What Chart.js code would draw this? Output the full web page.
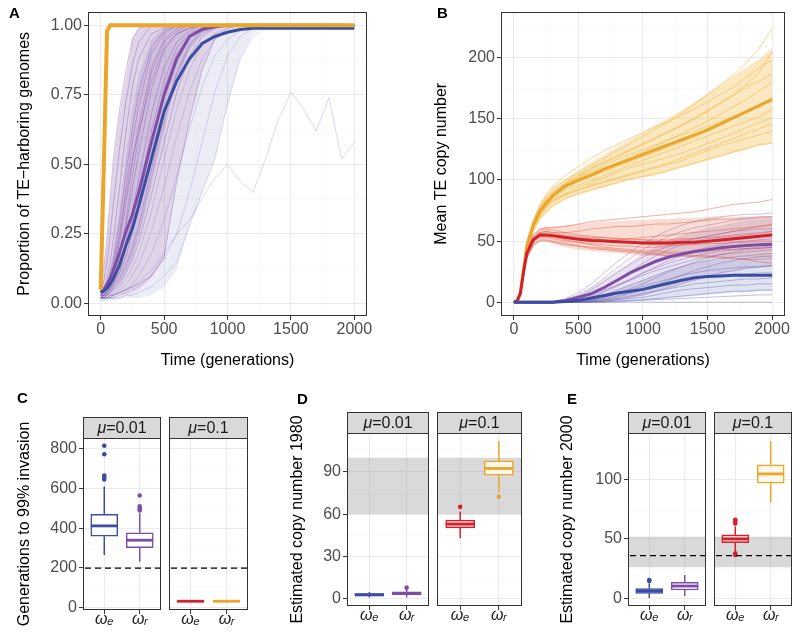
<!DOCTYPE html>
<html><head><meta charset="utf-8">
<script src="https://cdn.jsdelivr.net/npm/chart.js@4.4.1/dist/chart.umd.min.js"></script>
<style>
html,body{margin:0;padding:0;background:#fff;}
#wrap{position:relative;width:800px;height:633px;overflow:hidden;background:#fff;font-family:'Liberation Sans',Arial,sans-serif;}
canvas{position:absolute;}
.lab{position:absolute;font-weight:bold;font-size:15px;line-height:15px;color:#000;}
</style></head><body>
<div id="wrap">
<canvas id="cA" width="400" height="370" style="left:0;top:0"></canvas>
<canvas id="cB" width="400" height="370" style="left:400px;top:0"></canvas>
<canvas id="cC1" width="165" height="273" style="left:0;top:360px"></canvas>
<canvas id="cC2" width="90" height="273" style="left:165px;top:360px"></canvas>
<canvas id="cD1" width="173" height="273" style="left:260px;top:360px"></canvas>
<canvas id="cD2" width="95" height="273" style="left:433px;top:360px"></canvas>
<canvas id="cE1" width="182" height="273" style="left:528px;top:360px"></canvas>
<canvas id="cE2" width="90" height="273" style="left:710px;top:360px"></canvas>
<div class="lab" style="left:9px;top:5px">A</div>
<div class="lab" style="left:437px;top:5px">B</div>
<div class="lab" style="left:17px;top:390px">C</div>
<div class="lab" style="left:297px;top:391px">D</div>
<div class="lab" style="left:567px;top:391px">E</div>
</div>
<script>
const FONT = "'Liberation Sans', Arial, sans-serif";
Chart.defaults.font.family = FONT;
Chart.defaults.font.size = 16;
Chart.defaults.color = '#4D4D4D';

// ---------- time grid (generations) ----------
const T = [0,25,50,75,100,150,200,250,300,400,500,600,700,800,900,1000,1100,1200,1300,1400,1500,1600,1700,1800,1900,2000];

// ---------- panel A: proportion of TE-harboring genomes ----------
const aMeanYellow = [0.05,0.5,0.98,1,1,1,1,1,1,1,1,1,1,1,1,1,1,1,1,1,1,1,1,1,1,1];
const aMeanPurple = [0.04,0.05,0.07,0.09,0.12,0.186,0.26,0.32,0.40,0.58,0.75,0.88,0.96,0.985,0.995,1,1,1,1,1,1,1,1,1,1,0.995];
const aMeanBlue   = [0.04,0.045,0.055,0.07,0.09,0.14,0.21,0.27,0.35,0.52,0.69,0.80,0.88,0.935,0.96,0.975,0.985,0.99,0.99,0.99,0.99,0.99,0.99,0.99,0.99,0.99];
// envelopes of the run bundles (fast edge, dense middle, slow edge, faint outer runs)
const aCoreUpper  = [0.06,0.12,0.22,0.36,0.50,0.68,0.82,0.95,0.99,1,1,1,1,1,1,1,1,1,1,1,1,1,1,1,1,1];
const aInnerUpper = [0.03,0.05,0.08,0.13,0.19,0.35,0.54,0.70,0.82,0.95,0.99,1,1,1,1,1,1,1,1,1,1,1,1,1,1,1];
const aInnerLower = [0.02,0.02,0.03,0.04,0.05,0.08,0.12,0.17,0.24,0.42,0.62,0.80,0.91,0.97,0.99,1,1,1,1,1,1,1,1,1,1,1];
const aCoreLower  = [0.02,0.02,0.02,0.02,0.02,0.03,0.03,0.04,0.05,0.09,0.16,0.45,0.66,0.84,0.95,0.99,1,1,1,1,1,1,1,1,1,1];
const aOuterLower = [0.01,0.01,0.01,0.01,0.01,0.015,0.02,0.02,0.02,0.03,0.06,0.12,0.28,0.40,0.52,0.72,0.88,0.97,1,1,1,1,1,1,1,1];
const aRunsPurple = [
  [0.06,0.13,0.24,0.38,0.52,0.70,0.84,0.95,0.99,1,1,1,1,1,1,1,1,1,1,1,1,1,1,1,1,1],
  [0.04,0.08,0.15,0.25,0.36,0.56,0.73,0.86,0.94,1,1,1,1,1,1,1,1,1,1,1,1,1,1,1,1,1],
  [0.03,0.05,0.09,0.15,0.23,0.42,0.62,0.78,0.88,0.97,0.99,1,1,1,1,1,1,1,1,1,1,1,1,1,1,1],
  [0.03,0.04,0.07,0.11,0.16,0.30,0.47,0.63,0.76,0.92,0.98,1,1,1,1,1,1,1,1,1,1,1,1,1,1,1],
  [0.02,0.03,0.05,0.08,0.12,0.22,0.36,0.51,0.64,0.85,0.95,0.99,1,1,1,1,1,1,1,1,1,1,1,1,1,1],
  [0.03,0.04,0.05,0.07,0.10,0.17,0.28,0.41,0.54,0.77,0.91,0.97,0.99,1,1,1,1,1,1,1,1,1,1,1,1,1],
  [0.02,0.03,0.04,0.06,0.08,0.14,0.22,0.33,0.45,0.68,0.85,0.94,0.98,1,1,1,1,1,1,1,1,1,1,1,1,1],
  [0.03,0.03,0.04,0.05,0.07,0.11,0.17,0.26,0.36,0.58,0.77,0.90,0.96,0.99,1,1,1,1,1,1,1,1,1,1,1,1],
  [0.02,0.02,0.03,0.04,0.06,0.09,0.14,0.20,0.28,0.48,0.68,0.83,0.93,0.98,1,1,1,1,1,1,1,1,1,1,1,1],
  [0.03,0.03,0.03,0.04,0.05,0.07,0.11,0.16,0.22,0.39,0.58,0.76,0.89,0.96,0.99,1,1,1,1,1,1,1,1,1,1,1],
  [0.02,0.03,0.04,0.06,0.09,0.17,0.30,0.46,0.60,0.83,0.94,0.98,1,1,1,1,1,1,1,1,1,1,1,1,1,1],
  [0.04,0.05,0.07,0.10,0.14,0.26,0.42,0.58,0.71,0.90,0.97,1,1,1,1,1,1,1,1,1,1,1,1,1,1,1],
  [0.03,0.04,0.06,0.09,0.13,0.24,0.39,0.52,0.62,0.80,0.92,0.97,0.99,1,1,1,1,1,1,1,1,1,1,1,1,1],
  [0.02,0.03,0.04,0.05,0.07,0.12,0.20,0.30,0.40,0.62,0.80,0.92,0.97,0.99,1,1,1,1,1,1,1,1,1,1,1,1],
  [0.02,0.02,0.02,0.03,0.03,0.04,0.05,0.06,0.07,0.10,0.17,0.44,0.66,0.84,0.95,0.99,1,1,1,1,1,1,1,1,1,1]
];
const aRunsLavender = [
  [0.02,0.02,0.02,0.03,0.03,0.05,0.07,0.10,0.14,0.26,0.42,0.60,0.76,0.88,0.95,0.98,1,1,1,1,1,1,1,1,1,1],
  [0.02,0.02,0.02,0.02,0.03,0.04,0.05,0.07,0.10,0.18,0.30,0.46,0.63,0.78,0.89,0.95,0.98,1,1,1,1,1,1,1,1,1],
  [0.01,0.01,0.02,0.02,0.02,0.03,0.04,0.05,0.06,0.10,0.16,0.25,0.40,0.58,0.76,0.89,0.96,0.99,1,1,1,1,1,1,1,1],
  [0.02,0.02,0.02,0.02,0.02,0.02,0.03,0.03,0.04,0.06,0.10,0.15,0.28,0.40,0.52,0.72,0.88,0.96,0.99,1,1,1,1,1,1,1],
  [0.02,0.02,0.02,0.02,0.03,0.04,0.05,0.06,0.08,0.12,0.18,0.25,0.30,0.38,0.45,0.50,0.44,0.40,0.52,0.66,0.76,0.70,0.62,0.74,0.52,0.58],
  [0.03,0.03,0.03,0.04,0.05,0.08,0.12,0.18,0.25,0.45,0.65,0.82,0.92,0.97,0.99,1,1,1,1,1,1,1,1,1,1,1],
  [0.02,0.02,0.03,0.03,0.04,0.06,0.09,0.13,0.18,0.33,0.52,0.70,0.84,0.93,0.97,0.99,1,1,1,1,1,1,1,1,1,1]
];
const aYMajor = [0,0.25,0.5,0.75,1];
const aYAll = [0,0.125,0.25,0.375,0.5,0.625,0.75,0.875,1];
const xMajor = [0,500,1000,1500,2000];
const xAll = [0,250,500,750,1000,1250,1500,1750,2000];

// ---------- panel B: mean TE copy number ----------
const bMeanYellow = [0,1,8,27,46,63,74,81,87,95,100,104,109,113,117,121,125,129,133,137,141,146,151,156,161,166];
const bMeanRed    = [0,1,7,25,40,51,55,55,54.5,53,51.5,50.5,50,49.5,49,48.5,48.5,48.5,49,49,50,51,52,53,54,55];
const bMeanPurple = [0,0,0,0,0,0,0,0,0,1.5,4,7,12,18,24,29,33.5,37,39.5,41.5,43,44.5,45.5,46.5,47,47.5];
const bMeanBlue   = [0,0,0,0,0,0,0,0,0,0.5,1.5,3.5,5.5,7.5,9,10.5,13,15.5,18,20,21,21.5,22,22,22,22];
// envelopes of the run bundles
const bYellowHi = [0,1,9,30,50,67,79,87,93,101,108,115,121,127,133,139,145,151,157,164,171,178,185,192,199,208];
const bYellowLo = [0,1,6,23,41,57,67,73,78,84,88,91,94,97,100,102,104,107,110,113,116,119,122,125,128,130];
const bRedHi    = [0,1,8,27,43,55,60,62,62,63,64,65,66,66,67,67,68,68,69,69,70,70,70,70,70,70];
const bRedLo    = [0,1,6,22,36,46,50,50,48,45,43,42,41,40,39,38,38,37,37,37,37,37,37,37,37,37];
const bPurpleHi = [0,0,0,0,0,0,0,0,0,2,6,12,19,26,33,40,46,51,55,58,61,63,65,67,68,69];
const bPurpleLo = [0,0,0,0,0,0,0,0,0,0,0,0.5,1,2,4,6,9,12,15,18,21,23,25,27,28,29];
const bBlueHi   = [0,0,0,0,0,0,0,0,0,0.5,1.5,3,6,10,14,18,22,26,29,32,34,35,36,37,38,38];
const bBlueLo   = [0,0,0,0,0,0,0,0,0,0,0,0,0,0.5,1,1.5,2,3,4,5,6,7,8,8,9,9];
const bRunsYellow = [
  [0,1,9,30,50,67,79,87,93,100,106,112,118,124,130,136,142,148,155,162,170,178,186,196,208,224],
  [0,1,8,28,48,65,77,85,90,98,104,110,114,119,124,129,134,139,145,150,156,163,170,178,188,205],
  [0,1,8,27,46,63,75,82,88,96,101,106,110,114,119,123,128,133,138,143,148,154,160,166,173,180],
  [0,1,7,26,45,62,73,80,86,94,99,103,107,111,115,119,123,127,131,135,140,145,150,155,160,168],
  [0,1,7,27,46,62,73,80,85,92,96,100,104,108,112,116,120,124,128,132,136,140,144,148,152,158],
  [0,1,6,24,43,60,70,77,82,88,92,96,99,102,105,108,111,114,118,122,126,130,134,138,142,146],
  [0,1,7,25,44,61,71,78,83,88,92,95,98,101,104,107,110,113,116,120,124,128,131,134,137,140],
  [0,1,6,23,41,58,68,74,79,85,89,92,95,98,101,103,105,108,111,114,117,120,123,126,129,130],
  [0,1,9,29,49,67,79,88,95,104,111,118,124,129,134,139,144,148,153,158,164,170,176,184,192,198],
  [0,1,8,27,47,64,75,83,89,97,102,107,112,117,121,125,129,133,137,140,144,148,152,156,161,165],
  [0,1,8,28,47,64,76,84,90,97,103,109,115,120,125,130,135,140,145,151,157,163,169,176,181,187],
  [0,1,7,26,45,62,72,79,84,89,94,98,102,106,110,113,116,119,122,126,130,134,138,143,147,151]
];
const bRunsRed = [
  [0,1,8,27,43,55,60,61,61,62,64,66,67,68,69,70,71,72,73,74,76,78,80,81,82,84],
  [0,1,7,26,41,53,57,58,57,57,58,60,61,62,62,63,64,64,65,66,67,68,68,69,70,70],
  [0,1,7,25,40,51,55,55,54,53,52,52,51,51,52,53,54,55,56,57,58,59,60,61,62,63],
  [0,1,6,23,38,49,53,53,52,50,49,48,47,46,46,45,45,46,47,48,49,50,51,52,54,56],
  [0,1,7,25,40,51,54,54,53,51,49,47,45,44,43,42,42,41,41,42,42,43,43,44,44,45],
  [0,1,6,22,36,47,51,51,50,48,46,44,43,42,41,40,39,38,38,37,37,36,36,35,35,36],
  [0,1,8,27,42,53,57,58,57,55,54,53,53,52,52,51,51,51,52,52,53,53,54,55,56,58],
  [0,1,6,22,36,46,50,50,49,47,46,45,44,43,42,41,40,40,39,38,38,37,36,35,33,32],
  [0,1,8,28,43,55,59,60,59,57,55,54,53,52,51,51,50,50,51,52,54,56,58,60,62,64],
  [0,1,7,25,40,52,56,57,56,54,53,52,51,50,49,48,47,47,47,47,48,48,49,49,50,50]
];
const bRunsPurple = [
  [0,0,0,0,0,0,0,0,0,2,6,12,20,28,36,43,49,54,58,61,63,65,67,68,69,70],
  [0,0,0,0,0,0,0,0,0,1,3,7,12,18,25,32,38,43,47,50,52,54,55,56,57,58],
  [0,0,0,0,0,0,0,0,0,0.5,2,4,8,13,18,24,29,34,38,42,45,47,49,50,51,52],
  [0,0,0,0,0,0,0,0,0,0,1,2,4,7,11,15,20,25,29,33,36,39,41,43,44,45],
  [0,0,0,0,0,0,0,0,0,0,0.5,1,2,4,7,10,14,18,22,26,29,32,34,36,37,38],
  [0,0,0,0,0,0,0,0,0,0,0,0.5,1,2,4,6,9,12,15,18,21,24,26,28,29,30],
  [0,0,0,0,0,0,0,0,0,1,4,10,17,24,31,37,42,46,49,52,54,56,58,59,60,60],
  [0,0,0,0,0,0,0,0,0,0.5,2,5,9,14,19,24,28,32,35,38,40,42,43,44,45,46],
  [0,0,0,0,0,0,0,0,0,3,8,15,24,33,41,48,54,59,63,66,68,70,71,72,72,73]
];
const bRunsBlue = [
  [0,0,0,0,0,0,0,0,0,0.5,1.5,3,6,10,14,18,22,26,29,32,34,36,37,38,39,40],
  [0,0,0,0,0,0,0,0,0,0.3,1,2,4,7,10,13,16,19,22,24,26,27,28,29,29,30],
  [0,0,0,0,0,0,0,0,0,0,0.5,1.5,3,5,8,11,14,16,18,20,21,22,23,23,24,24],
  [0,0,0,0,0,0,0,0,0,0,0.5,1,2,3,5,7,9,11,13,15,16,17,18,19,19,20],
  [0,0,0,0,0,0,0,0,0,0,0,0.5,1,2,3,4,6,8,10,11,12,13,14,14,15,15],
  [0,0,0,0,0,0,0,0,0,0,0,0,0.5,1,1.5,2,3,4,5,6,7,8,9,9,10,10],
  [0,0,0,0,0,0,0,0,0,0,0,0,0,0.5,1,1.5,2,2.5,3,3.5,4,4.5,5,5.5,6,6],
  [0,0,0,0,0,0,0,0,0,1,3,6,10,14,18,22,26,29,32,35,37,39,40,41,42,43],
  [0,0,0,0,0,0,0,0,0,0,0,0,0,0,0,0,0,0,0,0,0,0,0,0,0,0]
];
const bYMajor = [0,50,100,150,200];
const bYAll = [0,25,50,75,100,125,150,175,200,225];

// ---------- panels C, D, E: box plots (facet: mu = 0.01, mu = 0.1) ----------
const groupLabels = ['\u03C9\u2091', '\u03C9\u1D63'];   // omega_e, omega_r
const muLabels = ['0.01', '0.1'];

const cLow  = [[265,232],[28,28]];
const cQ1   = [[360,303],[31,31]];
const cMed  = [[412,340],[33,33]];
const cQ3   = [[470,377],[35,35]];
const cHigh = [[610,475],[38,38]];
const cOut  = [[[815,772,665,655,645],[565,510,500,490]],[[],[]]];
const cThreshold = 200;

const dLow  = [[1,1],[43,76]];
const dQ1   = [[2,3],[50.3,87.7]];
const dMed  = [[3,3.8],[53,92.4]];
const dQ3   = [[3.8,5],[55.8,97.8]];
const dHigh = [[5,7],[61.7,111.8]];
const dOut  = [[[],[8]],[[65.2],[72.3]]];
const dBand = [60,100];

const eLow  = [[0.5,2.3],[39.4,80.4]];
const eQ1   = [[4.5,7.3],[46.9,96.6]];
const eMed  = [[6.5,10.6],[50,104.4]];
const eQ3   = [[8.4,13.7],[53.4,112]];
const eHigh = [[13,19.8],[60.3,132]];
const eOut  = [[[15.7,14.8],[]],[[63,65,66,38,36.5],[]]];
const eBand = [26.3,51.9];
const eObserved = 36;

// ---------- styles ----------
const BLUE='#3A4DA0', PURPLE='#7E4DA5', RED='#D2202C', YELLOW='#E9A62A';
const facetColors = [[BLUE, PURPLE],[RED, YELLOW]];
const facetFills = [['#FFFFFF','#FFFFFF'],['#F6D2D2','#FFF8EA']];

const near=(a,b)=>Math.abs(a-b)<1e-7;
const inList=(v,list)=>list.some(m=>near(m,v));
const xyT = ys => ys.map((y,i)=>({x:T[i], y}));

function gridCfg(majors, drawTicks){
  const maj = c => c && c.tick && inList(c.tick.value, majors);
  return {
    color: c => maj(c) ? '#EBEBEB' : '#F5F5F5',
    lineWidth: c => maj(c) ? 1.1 : 0.6,
    tickColor: c => maj(c) ? '#333333' : 'rgba(0,0,0,0)',
    tickWidth: 1, tickLength: 4, drawTicks: drawTicks, drawOnChartArea: true, offset:false
  };
}
function linScale(o){
  return {
    type:'linear', min:o.min, max:o.max, bounds:'data', offset:false,
    afterBuildTicks: s => { s.ticks = o.all.map(v=>({value:v})); },
    afterFit: o.fit,
    ticks:{ display: o.labels !== false, autoSkip:false, maxRotation:0, minRotation:0,
      color: o.tickColor || '#4D4D4D', padding: o.pad === undefined ? 2 : o.pad,
      font: o.font || {size:16},
      callback: v => inList(v,o.majors) ? o.fmt(v) : '' },
    grid: gridCfg(o.majors, o.drawTicks !== false),
    border:{display:false},
    title: o.title ? {display:true, text:o.title, color:'#000', font:{size:16}, padding:o.titlePad} : {display:false}
  };
}

const framePlugin = {
  id:'frame',
  afterDraw(chart){
    const a = chart.chartArea, ctx = chart.ctx;
    ctx.save(); ctx.strokeStyle='#333333'; ctx.lineWidth=1;
    ctx.strokeRect(Math.round(a.left)+0.5, Math.round(a.top)+0.5, Math.round(a.right)-Math.round(a.left)-1, Math.round(a.bottom)-Math.round(a.top)-1);
    ctx.restore();
  }
};
const stripPlugin = {
  id:'strip',
  afterDraw(chart, args, opts){
    if (!opts || !opts.text) return;
    const a = chart.chartArea, ctx = chart.ctx;
    const top = Math.round(a.top) - opts.height;
    ctx.save();
    ctx.fillStyle='#D9D9D9'; ctx.strokeStyle='#333333'; ctx.lineWidth=1;
    ctx.fillRect(Math.round(a.left), top, Math.round(a.right)-Math.round(a.left), opts.height);
    ctx.strokeRect(Math.round(a.left)+0.5, top+0.5, Math.round(a.right)-Math.round(a.left)-1, opts.height);
    ctx.fillStyle='#1A1A1A'; ctx.textBaseline='middle';
    ctx.font = 'italic 16px ' + FONT; const w1 = ctx.measureText('\u03BC').width;
    ctx.font = '16px ' + FONT; const t2 = '=' + opts.text; const w2 = ctx.measureText(t2).width;
    const cx = (a.left + a.right)/2, cy = top + opts.height/2 + 1;
    let x0 = cx - (w1+w2)/2;
    ctx.textAlign='left';
    ctx.font = 'italic 16px ' + FONT; ctx.fillText('\u03BC', x0, cy);
    ctx.font = '16px ' + FONT; ctx.fillText(t2, x0 + w1, cy);
    ctx.restore();
  }
};
const refPlugin = {
  id:'refs',
  beforeDatasetsDraw(chart, args, opts){
    if (!opts || !opts.band) return;
    const a = chart.chartArea, y = chart.scales.y, ctx = chart.ctx;
    const y1 = y.getPixelForValue(opts.band[1]), y0 = y.getPixelForValue(opts.band[0]);
    ctx.save(); ctx.fillStyle='rgba(128,128,128,0.3)';
    ctx.fillRect(a.left, y1, a.right-a.left, y0-y1); ctx.restore();
  },
  afterDatasetsDraw(chart, args, opts){
    if (!opts || opts.dash === undefined) return;
    const a = chart.chartArea, y = chart.scales.y, ctx = chart.ctx;
    const py = y.getPixelForValue(opts.dash);
    ctx.save(); ctx.strokeStyle='#000'; ctx.lineWidth=1.3; ctx.setLineDash([6,4]);
    ctx.beginPath(); ctx.moveTo(a.left+2, py); ctx.lineTo(a.right, py); ctx.stroke(); ctx.restore();
  }
};
const whiskerPlugin = {
  id:'whiskers',
  afterDatasetsDraw(chart, args, opts){
    if (!opts || !opts.low) return;
    const xs = chart.scales.x, ys = chart.scales.y, ctx = chart.ctx;
    ctx.save();
    opts.low.forEach((lo,i)=>{
      const px = xs.getPixelForValue(i+1);
      ctx.strokeStyle = opts.colors[i]; ctx.lineWidth = 1.5;
      ctx.beginPath();
      ctx.moveTo(px, ys.getPixelForValue(lo)); ctx.lineTo(px, ys.getPixelForValue(opts.q1[i]));
      ctx.moveTo(px, ys.getPixelForValue(opts.q3[i])); ctx.lineTo(px, ys.getPixelForValue(opts.high[i]));
      ctx.stroke();
      ctx.lineWidth = 2.8;
      const pm = ys.getPixelForValue(opts.med[i]);
      ctx.beginPath(); ctx.moveTo(px - opts.half, pm); ctx.lineTo(px + opts.half, pm); ctx.stroke();
    });
    ctx.restore();
  }
};

// ---------- line helpers ----------
function lineDs(ys, color, width){
  return {data: xyT(ys), borderColor: color, borderWidth: width, pointRadius:0, fill:false, tension:0};
}
function bandDs(lo, hi, color){
  return [
    {data: xyT(lo), borderWidth:0, borderColor:'rgba(0,0,0,0)', pointRadius:0, fill:false, tension:0},
    {data: xyT(hi), borderWidth:0, borderColor:'rgba(0,0,0,0)', pointRadius:0, fill:'-1', backgroundColor: color, tension:0}
  ];
}
function withOrder(list){ return list.map((d,i)=>Object.assign(d,{order: list.length - i})); }

// ---------- Panel A ----------
const dsA = withOrder([
  ...bandDs(aOuterLower, aCoreLower, 'rgba(95,95,180,0.12)'),
  ...bandDs(aCoreLower, aCoreUpper, 'rgba(126,77,165,0.24)'),
  ...bandDs(aInnerLower, aInnerUpper, 'rgba(126,77,165,0.16)'),
  ...aRunsLavender.map(r=>lineDs(r,'rgba(90,90,175,0.22)',1)),
  ...aRunsPurple.map(r=>lineDs(r,'rgba(120,70,160,0.35)',1)),
  lineDs(aMeanPurple, PURPLE, 3),
  lineDs(aMeanBlue, BLUE, 3),
  lineDs(aMeanYellow, YELLOW, 4)
]);
new Chart(document.getElementById('cA'), {
  type:'line', data:{datasets: dsA},
  options:{
    responsive:false, animation:false, events:[],
    layout:{padding:{top:6,right:33,bottom:0,left:0}},
    plugins:{legend:{display:false}, tooltip:{enabled:false}, filler:{propagate:false}},
    scales:{
      x: linScale({min:-100,max:2100,all:xAll,majors:xMajor,fmt:v=>String(v),pad:0,
        fit:s=>{s.height=54;}, title:'Time (generations)', titlePad:{top:0,bottom:0}}),
      y: linScale({min:-0.045,max:1.0495,all:aYAll,majors:aYMajor,fmt:v=>v.toFixed(2),pad:2,
        fit:s=>{s.width=88;}, title:'Proportion of TE\u2212harboring genomes', titlePad:{top:15,bottom:0}})
    }
  },
  plugins:[framePlugin]
});

// ---------- Panel B ----------
const dsB = withOrder([
  ...bandDs(bYellowLo, bYellowHi, 'rgba(242,180,50,0.30)'),
  ...bandDs(bRedLo, bRedHi, 'rgba(228,95,60,0.22)'),
  ...bandDs(bPurpleLo, bPurpleHi, 'rgba(126,77,165,0.16)'),
  ...bandDs(bBlueLo, bBlueHi, 'rgba(70,80,170,0.16)'),
  ...bRunsYellow.map(r=>lineDs(r,'rgba(240,176,48,0.5)',1)),
  ...bRunsRed.map(r=>lineDs(r,'rgba(225,85,55,0.45)',1)),
  ...bRunsBlue.map(r=>lineDs(r,'rgba(70,80,170,0.35)',1)),
  ...bRunsPurple.map(r=>lineDs(r,'rgba(126,77,165,0.35)',1)),
  lineDs(bMeanYellow, YELLOW, 3),
  lineDs(bMeanRed, RED, 3),
  lineDs(bMeanPurple, PURPLE, 3),
  lineDs(bMeanBlue, BLUE, 3)
]);
new Chart(document.getElementById('cB'), {
  type:'line', data:{datasets: dsB},
  options:{
    responsive:false, animation:false, events:[],
    layout:{padding:{top:6,right:15,bottom:0,left:0}},
    plugins:{legend:{display:false}, tooltip:{enabled:false}, filler:{propagate:false}},
    scales:{
      x: linScale({min:-100,max:2100,all:xAll,majors:xMajor,fmt:v=>String(v),pad:0,
        fit:s=>{s.height=54;}, title:'Time (generations)', titlePad:{top:0,bottom:0}}),
      y: linScale({min:-11.3,max:237.9,all:bYAll,majors:bYMajor,fmt:v=>String(v),pad:2,
        fit:s=>{s.width=101;}, title:'Mean TE copy number', titlePad:{top:32,bottom:0}})
    }
  },
  plugins:[framePlugin]
});

// ---------- Facet box plots ----------
function facet(id, f, st, g){
  const boxData = [0,1].map(i=>({x:i+1, y:[st.q1[f][i], st.q3[f][i]]}));
  const outData = [], outCol = [];
  st.out[f].forEach((arr,i)=>arr.forEach(v=>{ outData.push({x:i+1, y:v}); outCol.push(facetColors[f][i]); }));
  const first = f === 0;
  new Chart(document.getElementById(id), {
    type:'bar',
    data:{datasets:[
      {type:'scatter', data: outData, pointRadius:2.3, pointBackgroundColor: outCol, pointBorderColor: outCol, pointBorderWidth:0, order:0},
      {type:'bar', data: boxData, backgroundColor: facetFills[f], borderColor: facetColors[f],
        borderWidth:1.5, borderSkipped:false, barThickness: g.bar, order:1}
    ]},
    options:{
      responsive:false, animation:false, events:[],
      layout:{padding:{top:g.top, right:g.right, bottom:0, left:0}},
      plugins:{
        legend:{display:false}, tooltip:{enabled:false},
        strip:{text: muLabels[f], height: 21},
        refs:{band: st.band, dash: st.dash},
        whiskers:{low: st.low[f], q1: st.q1[f], med: st.med[f], q3: st.q3[f], high: st.high[f], colors: facetColors[f], half: g.bar/2}
      },
      scales:{
        x: linScale({min:0.4,max:2.6,all:[1,2],majors:[1,2],fmt:v=>groupLabels[Math.round(v)-1],pad:g.xpad,
          tickColor:'#222', font:{size:16, style:'italic'}, fit:s=>{s.height=g.xh;}}),
        y: linScale({min:st.min,max:st.max,all:st.all,majors:st.majors,fmt:v=>String(v),pad:2,
          labels: first, drawTicks: first,
          fit:s=>{s.width=g.yw;}, title: first ? st.title : null, titlePad:{top:g.tpad,bottom:0}})
      }
    },
    plugins:[framePlugin, stripPlugin, refPlugin, whiskerPlugin]
  });
}

const stC = {low:cLow,q1:cQ1,med:cMed,q3:cQ3,high:cHigh,out:cOut,dash:cThreshold,band:null,
  min:-11,max:854,all:[0,100,200,300,400,500,600,700,800],majors:[0,200,400,600,800],title:'Generations to 99% invasion'};
const stD = {low:dLow,q1:dQ1,med:dMed,q3:dQ3,high:dHigh,out:dOut,dash:undefined,band:dBand,
  min:-5,max:117.5,all:[0,15,30,45,60,75,90,105],majors:[0,30,60,90],title:'Estimated copy number 1980'};
const stE = {low:eLow,q1:eQ1,med:eMed,q3:eQ3,high:eHigh,out:eOut,dash:eObserved,band:eBand,
  min:-6.1,max:138.6,all:[0,25,50,75,100,125],majors:[0,50,100],title:'Estimated copy number 2000'};

facet('cC1', 0, stC, {top:78, right:2, yw:83, xh:23, bar:27, tpad:15, xpad:-4});
facet('cC2', 1, stC, {top:78, right:7, yw:4,  xh:23, bar:27, tpad:0, xpad:-4});
facet('cD1', 0, stD, {top:73, right:1, yw:87, xh:27, bar:29, tpad:28, xpad:-4});
facet('cD2', 1, stD, {top:73, right:6, yw:4,  xh:27, bar:29, tpad:0, xpad:-4});
facet('cE1', 0, stE, {top:73, right:2, yw:100, xh:27, bar:27, tpad:30, xpad:-4});
facet('cE2', 1, stE, {top:73, right:8, yw:3,  xh:27, bar:27, tpad:0, xpad:-4});
</script>
</body></html>
